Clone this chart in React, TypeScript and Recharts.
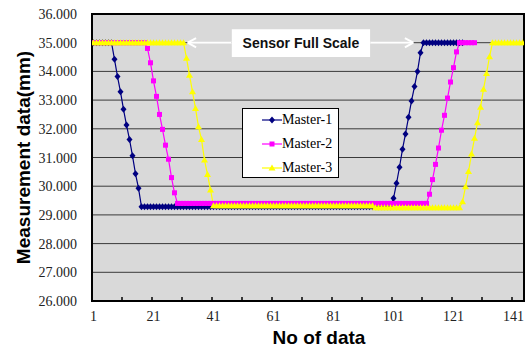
import { CartesianGrid, Legend, Line, LineChart, ReferenceArea, ReferenceLine, XAxis, YAxis } from 'recharts';

// category axis: 144 samples, labels every 20, tick marks every 10
const X_LABELS = [1, 21, 41, 61, 81, 101, 121, 141];
const X_MARKS = [10.5, 20.5, 30.5, 40.5, 50.5, 60.5, 70.5, 80.5, 90.5, 100.5, 110.5, 120.5, 130.5, 140.5];
const Y_TICKS = [26, 27, 28, 29, 30, 31, 32, 33, 34, 35, 36];

const FULL = 35;
const rep = (v: number, n: number): number[] => Array(n).fill(v);

// Master-1
const m1Drop = [34.42, 33.82, 33.29, 32.68, 32.13, 31.63, 31.06, 30.43, 29.93];
const m1Low = 29.28;
const m1Rise = [29.58, 30.1, 30.66, 31.29, 31.82, 32.4, 32.97, 33.47, 34.0, 34.65];
const master1 = [...rep(FULL, 7), ...m1Drop, ...rep(m1Low, 84), ...m1Rise, ...rep(FULL, 14)];

// Master-2
const m2Drop = [34.8, 34.3, 33.67, 33.13, 32.5, 31.98, 31.43, 30.94, 30.3, 29.77];
const m2Low = 29.4;
const m2Rise = [29.72, 30.23, 30.76, 31.33, 31.95, 32.47, 33.07, 33.63, 34.13, 34.68];
const master2 = [...rep(FULL, 18), ...m2Drop, ...rep(m2Low, 84), ...m2Rise, ...rep(FULL, 6)];

// Master-3
const m3Drop = [34.46, 33.87, 33.29, 32.71, 32.07, 31.63, 30.91, 30.41, 29.87];
const m3LowA = 29.32;
const m3LowB = 29.25;
const m3Rise = [29.46, 29.98, 30.51, 31.12, 31.67, 32.21, 32.75, 33.38, 33.93, 34.51];
const master3 = [...rep(FULL, 31), ...m3Drop, ...rep(m3LowA, 54), ...rep(m3LowB, 29), ...m3Rise, ...rep(FULL, 11)];

const data = Array.from({ length: 144 }, (_, i) => ({
  n: i + 1,
  m1: master1[i],
  m2: master2[i],
  m3: master3[i],
}));

const SERIES = [
  { key: 'm1', name: 'Master-1', color: '#000080', shape: 'diamond' },
  { key: 'm2', name: 'Master-2', color: '#ff00ff', shape: 'square' },
  { key: 'm3', name: 'Master-3', color: '#ffff00', shape: 'triangle' },
];

const SERIF = "'Liberation Serif', 'Times New Roman', 'DejaVu Serif', serif";
const SANS = "'Liberation Sans', Arial, sans-serif";

const marker = (shape: string, color: string, cx: number, cy: number) => {
  if (shape === 'diamond') {
    return <polygon points={`${cx},${cy - 3.5} ${cx + 3},${cy} ${cx},${cy + 3.5} ${cx - 3},${cy}`} fill={color} />;
  }
  if (shape === 'square') {
    return <rect x={cx - 2.5} y={cy - 2.5} width={5} height={5} fill={color} />;
  }
  return <polygon points={`${cx},${cy - 3.5} ${cx + 3.5},${cy + 2.5} ${cx - 3.5},${cy + 2.5}`} fill={color} />;
};

const makeDot = (shape: string, color: string) => (props: any) => {
  const { cx, cy, index } = props;
  if (cx == null || cy == null || Number.isNaN(cy)) return <g key={`e-${index}`} />;
  return <g key={`d-${index}`}>{marker(shape, color, cx, cy)}</g>;
};

const renderXTick = (props: any) => {
  const { x, y, payload } = props;
  const v = payload.value;
  if (X_LABELS.includes(v)) {
    return (
      <text x={x} y={y + 20} textAnchor="middle" style={{ fontFamily: SERIF, fontSize: 14 }} fill="#222">
        {v}
      </text>
    );
  }
  return <line x1={x} x2={x} y1={y} y2={y - 4} stroke="#000" strokeWidth={1.5} />;
};

const renderYTick = (props: any) => {
  const { x, y, payload } = props;
  return (
    <text x={x} y={y} dy={5} textAnchor="end" style={{ fontFamily: SERIF, fontSize: 14 }} fill="#222">
      {Number(payload.value).toFixed(3)}
    </text>
  );
};

const renderLegend = () => (
  <div
    style={{
      position: 'relative',
      width: 97,
      height: 70,
      boxSizing: 'border-box',
      border: '1px solid #000',
      background: '#fff',
      fontFamily: SERIF,
      fontSize: 14,
      color: '#000',
    }}
  >
    {SERIES.map((s, i) => (
      <div
        key={s.key}
        style={{ position: 'absolute', left: 0, top: 1 + i * 24, height: 20, display: 'flex', alignItems: 'center' }}
      >
        <svg width={39} height={12} style={{ display: 'block' }}>
          <line x1={19} x2={39} y1={6} y2={6} stroke={s.color} strokeWidth={1.2} />
          {marker(s.shape, s.color, 29, 6)}
        </svg>
        <span style={{ lineHeight: '20px', whiteSpace: 'nowrap', fontFamily: SERIF }}>{s.name}</span>
      </div>
    ))}
  </div>
);

const arrow = (from: number, to: number) => {
  const back = from < to ? -2.8 : 2.8;
  return [
    <ReferenceLine key={`a-${to}`} segment={[{ x: from, y: FULL }, { x: to, y: FULL }]} stroke="#fff" strokeWidth={2} ifOverflow="visible" />,
    <ReferenceLine key={`h1-${to}`} segment={[{ x: to, y: FULL }, { x: to + back, y: FULL + 0.16 }]} stroke="#fff" strokeWidth={2} ifOverflow="visible" />,
    <ReferenceLine key={`h2-${to}`} segment={[{ x: to, y: FULL }, { x: to + back, y: FULL - 0.16 }]} stroke="#fff" strokeWidth={2} ifOverflow="visible" />,
  ];
};

export default function App() {
  return (
    <div style={{ position: 'absolute', left: 0, top: 0, width: 528, height: 348, background: '#fff' }}>
      <LineChart width={528} height={348} data={data} margin={{ top: 14, right: 4, bottom: 0, left: 0 }}>
        <CartesianGrid vertical={false} stroke="#3a3a3a" strokeWidth={1} fill="#d9d9d9" fillOpacity={1} />
        <XAxis
          dataKey="n"
          type="number"
          domain={[0.5, 144.5]}
          ticks={[...X_LABELS, ...X_MARKS].sort((a, b) => a - b)}
          interval={0}
          tickSize={0}
          tickMargin={0}
          tick={renderXTick}
          axisLine={false}
          height={47}
          allowDataOverflow
          label={{
            content: (p: any) => {
              const vb = p.viewBox;
              return (
                <text x={vb.x + vb.width / 2 + 11} y={vb.y + 43} textAnchor="middle" style={{ fontFamily: SANS, fontWeight: 'bold', fontSize: 19 }} fill="#000">
                  No of data
                </text>
              );
            },
          }}
        />
        <YAxis
          type="number"
          domain={[26, 36]}
          ticks={Y_TICKS}
          interval={0}
          tickSize={0}
          tickMargin={15}
          tick={renderYTick}
          axisLine={false}
          width={92}
          allowDataOverflow
          label={{
            content: (p: any) => {
              const vb = p.viewBox;
              const cx = vb.x + 23;
              const cy = vb.y + vb.height / 2;
              return (
                <text
                  x={cx}
                  y={cy}
                  transform={`rotate(-90 ${cx} ${cy})`}
                  textAnchor="middle"
                  dominantBaseline="central"
                  style={{ fontFamily: SANS, fontWeight: 'bold', fontSize: 19 }}
                  fill="#000"
                >
                  Measurement data(mm)
                </text>
              );
            },
          }}
        />
        <ReferenceArea x1={0.5} x2={144.5} y1={26} y2={36} fill="none" fillOpacity={0} stroke="#000" strokeWidth={2} ifOverflow="visible" />
        <ReferenceArea
          x1={47.1}
          x2={93.2}
          y1={34.5}
          y2={35.47}
          fill="#fff"
          fillOpacity={1}
          stroke="none"
          ifOverflow="visible"
          label={{
            content: (p: any) => {
              const vb = p.viewBox;
              return (
                <text
                  x={vb.x + vb.width / 2}
                  y={vb.y + vb.height / 2}
                  textAnchor="middle"
                  dominantBaseline="central"
                  style={{ fontFamily: SANS, fontWeight: 'bold', fontSize: 14 }}
                  fill="#111"
                >
                  Sensor Full Scale
                </text>
              );
            },
          }}
        />
        {arrow(47.1, 32.4)}
        {arrow(93.2, 107.6)}
        <Legend
          layout="vertical"
          align="center"
          verticalAlign="middle"
          content={renderLegend}
          wrapperStyle={{ left: 242, top: 108, width: 97, height: 70 }}
        />
        {SERIES.map((s) => (
          <Line
            key={s.key}
            type="linear"
            dataKey={s.key}
            name={s.name}
            stroke={s.color}
            strokeWidth={1.2}
            dot={makeDot(s.shape, s.color)}
            activeDot={false}
            isAnimationActive={false}
          />
        ))}
      </LineChart>
    </div>
  );
}
